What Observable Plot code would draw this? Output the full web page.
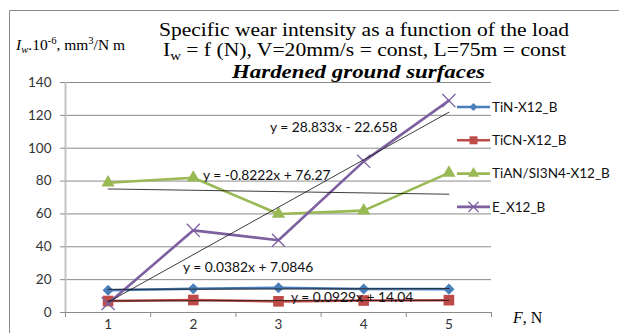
<!DOCTYPE html>
<html>
<head>
<meta charset="utf-8">
<script src="https://cdn.jsdelivr.net/npm/d3@7"></script>
<script src="https://cdn.jsdelivr.net/npm/@observablehq/plot@0.6"></script>
<style>
  body { margin: 0; background: #fff; }
  #chart { width: 619px; height: 333px; overflow: hidden; }
</style>
</head>
<body>
<div id="chart"></div>
<script>
// ---------- data ----------
const loads = [1, 2, 3, 4, 5];
const seriesNames = ["TiN-X12_B", "TiCN-X12_B", "TiAN/SI3N4-X12_B", "E_X12_B"];
const tinValues = [13.5, 14.5, 15.1, 14.3, 14.2];
const ticnValues = [7.0, 7.6, 6.8, 7.3, 7.5];
const tianValues = [79, 82, 60, 62, 85];
const eValues = [5.5, 50, 44, 92, 129];
const trendLabels = ["y = 0.0929x + 14.04", "y = 0.0382x + 7.0846", "y = -0.8222x + 76.27", "y = 28.833x - 22.658"];
const yTicks = [0, 20, 40, 60, 80, 100, 120, 140];
const titleLine1 = "Specific wear intensity as a function of the load";
const titleLine2 = [" = f (N), V=20mm/s = const, L=75m = const"];
const titleLine3 = "Hardened ground surfaces";
const xLabel = ["F", ", N"];

// ---------- styles / layout ----------
const colors = ["#4A7EBB", "#BE4B48", "#98B954", "#7D60A0"];
const symbols = ["diamond2", "square", "triangle", "times"];
const markerR = [5, 6, 4.9, 6];
const legendMarkerSize = [40, 64, 55, 70];
const labelPos = [[291, 302], [183, 272], [203, 180], [270, 132]];
const W = 619, H = 333;

const valuesBySeries = [tinValues, ticnValues, tianValues, eValues];
const rows = seriesNames.flatMap((name, s) =>
  loads.map((x, i) => ({ series: name, s, x, y: valuesBySeries[s][i] })));
const boundaries = loads.map(d => d - 0.5).concat(loads[loads.length - 1] + 0.5);

const seriesMarks = seriesNames.flatMap((name, s) => {
  const data = rows.filter(r => r.s === s);
  const line = Plot.line(data, { x: "x", y: "y", stroke: colors[s], strokeWidth: 2.6 });
  const dot = symbols[s] === "times"
    ? Plot.dot(data, { x: "x", y: "y", symbol: "times", r: markerR[s], stroke: colors[s], strokeWidth: 1.3, fill: "none" })
    : Plot.dot(data, { x: "x", y: "y", symbol: symbols[s], r: markerR[s], fill: colors[s], stroke: "none" });
  return [line, dot];
});

const svgEl = Plot.plot({
  width: W, height: H,
  marginLeft: 65, marginRight: 128, marginTop: 82, marginBottom: 21,
  style: { background: "transparent", fontFamily: "Lato, sans-serif", fontSize: "13.5px", overflow: "hidden" },
  x: { type: "linear", domain: [0.5, 5.5], axis: null, label: null },
  y: { domain: [0, 140], axis: null, label: null },
  marks: [
    Plot.gridY(yTicks, { stroke: "#8a8a8a", strokeOpacity: 1 }),
    Plot.ruleX([boundaries[0]], { stroke: "#c4c4c4", strokeWidth: 2 }),
    Plot.axisY(yTicks, { tickSize: 5, tickPadding: 9, stroke: "#8a8a8a", fill: "#333", label: null }),
    Plot.axisX(boundaries, { tickSize: 5, tickFormat: () => "", stroke: "#8a8a8a", label: null }),
    Plot.axisX(loads, { tickSize: 0, tickPadding: 7, fill: "#333", label: null }),
    ...seriesMarks,
    Plot.linearRegressionY(rows, { x: "x", y: "y", z: "series", stroke: "#1a1a1a", strokeWidth: 0.85, ci: 0 })
  ]
});

document.getElementById("chart").appendChild(svgEl);
const svg = d3.select(svgEl);

// outer chart frame
svg.append("path").attr("d", `M9.5,${H} V10.5 H${W}`).attr("fill", "none").attr("stroke", "#8a8a8a");

// trend labels
const tl = svg.append("g").attr("font-family", "Lato, sans-serif").attr("font-size", 13.8).attr("fill", "#111").attr("text-anchor", "start");
trendLabels.forEach((t, i) => {
  tl.append("text").attr("x", labelPos[i][0]).attr("y", labelPos[i][1]).text(t);
});

// title
const tg = svg.append("g").attr("font-family", "'Liberation Serif', 'Times New Roman', serif").attr("fill", "#000").attr("text-anchor", "start");
tg.append("text").attr("x", 159).attr("y", 36).attr("font-size", 19)
  .attr("textLength", 410).attr("lengthAdjust", "spacingAndGlyphs").text(titleLine1);
const t2 = tg.append("text").attr("x", 163).attr("y", 55.5).attr("font-size", 19)
  .attr("textLength", 403).attr("lengthAdjust", "spacingAndGlyphs");
t2.append("tspan").text("I");
t2.append("tspan").attr("font-size", 13).attr("dy", 4).text("w");
t2.append("tspan").attr("dy", -4).text(titleLine2[0]);
tg.append("text").attr("x", 232).attr("y", 77.5).attr("font-size", 19.5).attr("font-weight", "bold").attr("font-style", "italic")
  .attr("textLength", 253).attr("lengthAdjust", "spacingAndGlyphs").text(titleLine3);

// y axis label
const yl = svg.append("text").attr("x", 16).attr("y", 49.5).attr("text-anchor", "start")
  .attr("font-family", "'Liberation Serif', serif").attr("font-size", 14.5).attr("fill", "#000")
  .attr("textLength", 109).attr("lengthAdjust", "spacingAndGlyphs");
yl.append("tspan").attr("font-style", "italic").text("I");
yl.append("tspan").attr("font-style", "italic").attr("font-size", 10).attr("dy", 3).text("w");
yl.append("tspan").attr("dy", -3).text(".10");
yl.append("tspan").attr("font-size", 10).attr("dy", -5.5).text("-6");
yl.append("tspan").attr("dy", 5.5).text(", mm");
yl.append("tspan").attr("font-size", 10).attr("dy", -5.5).text("3");
yl.append("tspan").attr("dy", 5.5).text("/N m");

// x axis label
const xl = svg.append("text").attr("x", 513).attr("y", 323).attr("text-anchor", "start").attr("font-family", "'Liberation Serif', serif").attr("font-size", 16).attr("fill", "#000");
xl.append("tspan").attr("font-style", "italic").text(xLabel[0]);
xl.append("tspan").text(xLabel[1]);

// legend
const lg = svg.append("g").attr("font-family", "Lato, sans-serif").attr("font-size", 13.5).attr("fill", "#111").attr("text-anchor", "start");
const symbolTypes = { diamond2: d3.symbolDiamond2, square: d3.symbolSquare, triangle: d3.symbolTriangle, times: d3.symbolTimes };
seriesNames.forEach((name, i) => {
  const y = 107 + i * 33.3;
  lg.append("line").attr("x1", 457).attr("x2", 490).attr("y1", y).attr("y2", y).attr("stroke", colors[i]).attr("stroke-width", 2.6);
  const p = lg.append("path").attr("transform", `translate(473.5,${y})`)
    .attr("d", d3.symbol().type(symbolTypes[symbols[i]]).size(legendMarkerSize[i])());
  if (symbols[i] === "times") p.attr("fill", "none").attr("stroke", colors[i]).attr("stroke-width", 1.2);
  else p.attr("fill", colors[i]);
  lg.append("text").attr("x", 492).attr("y", y).attr("dy", "0.35em").text(name);
});
</script>
</body>
</html>
